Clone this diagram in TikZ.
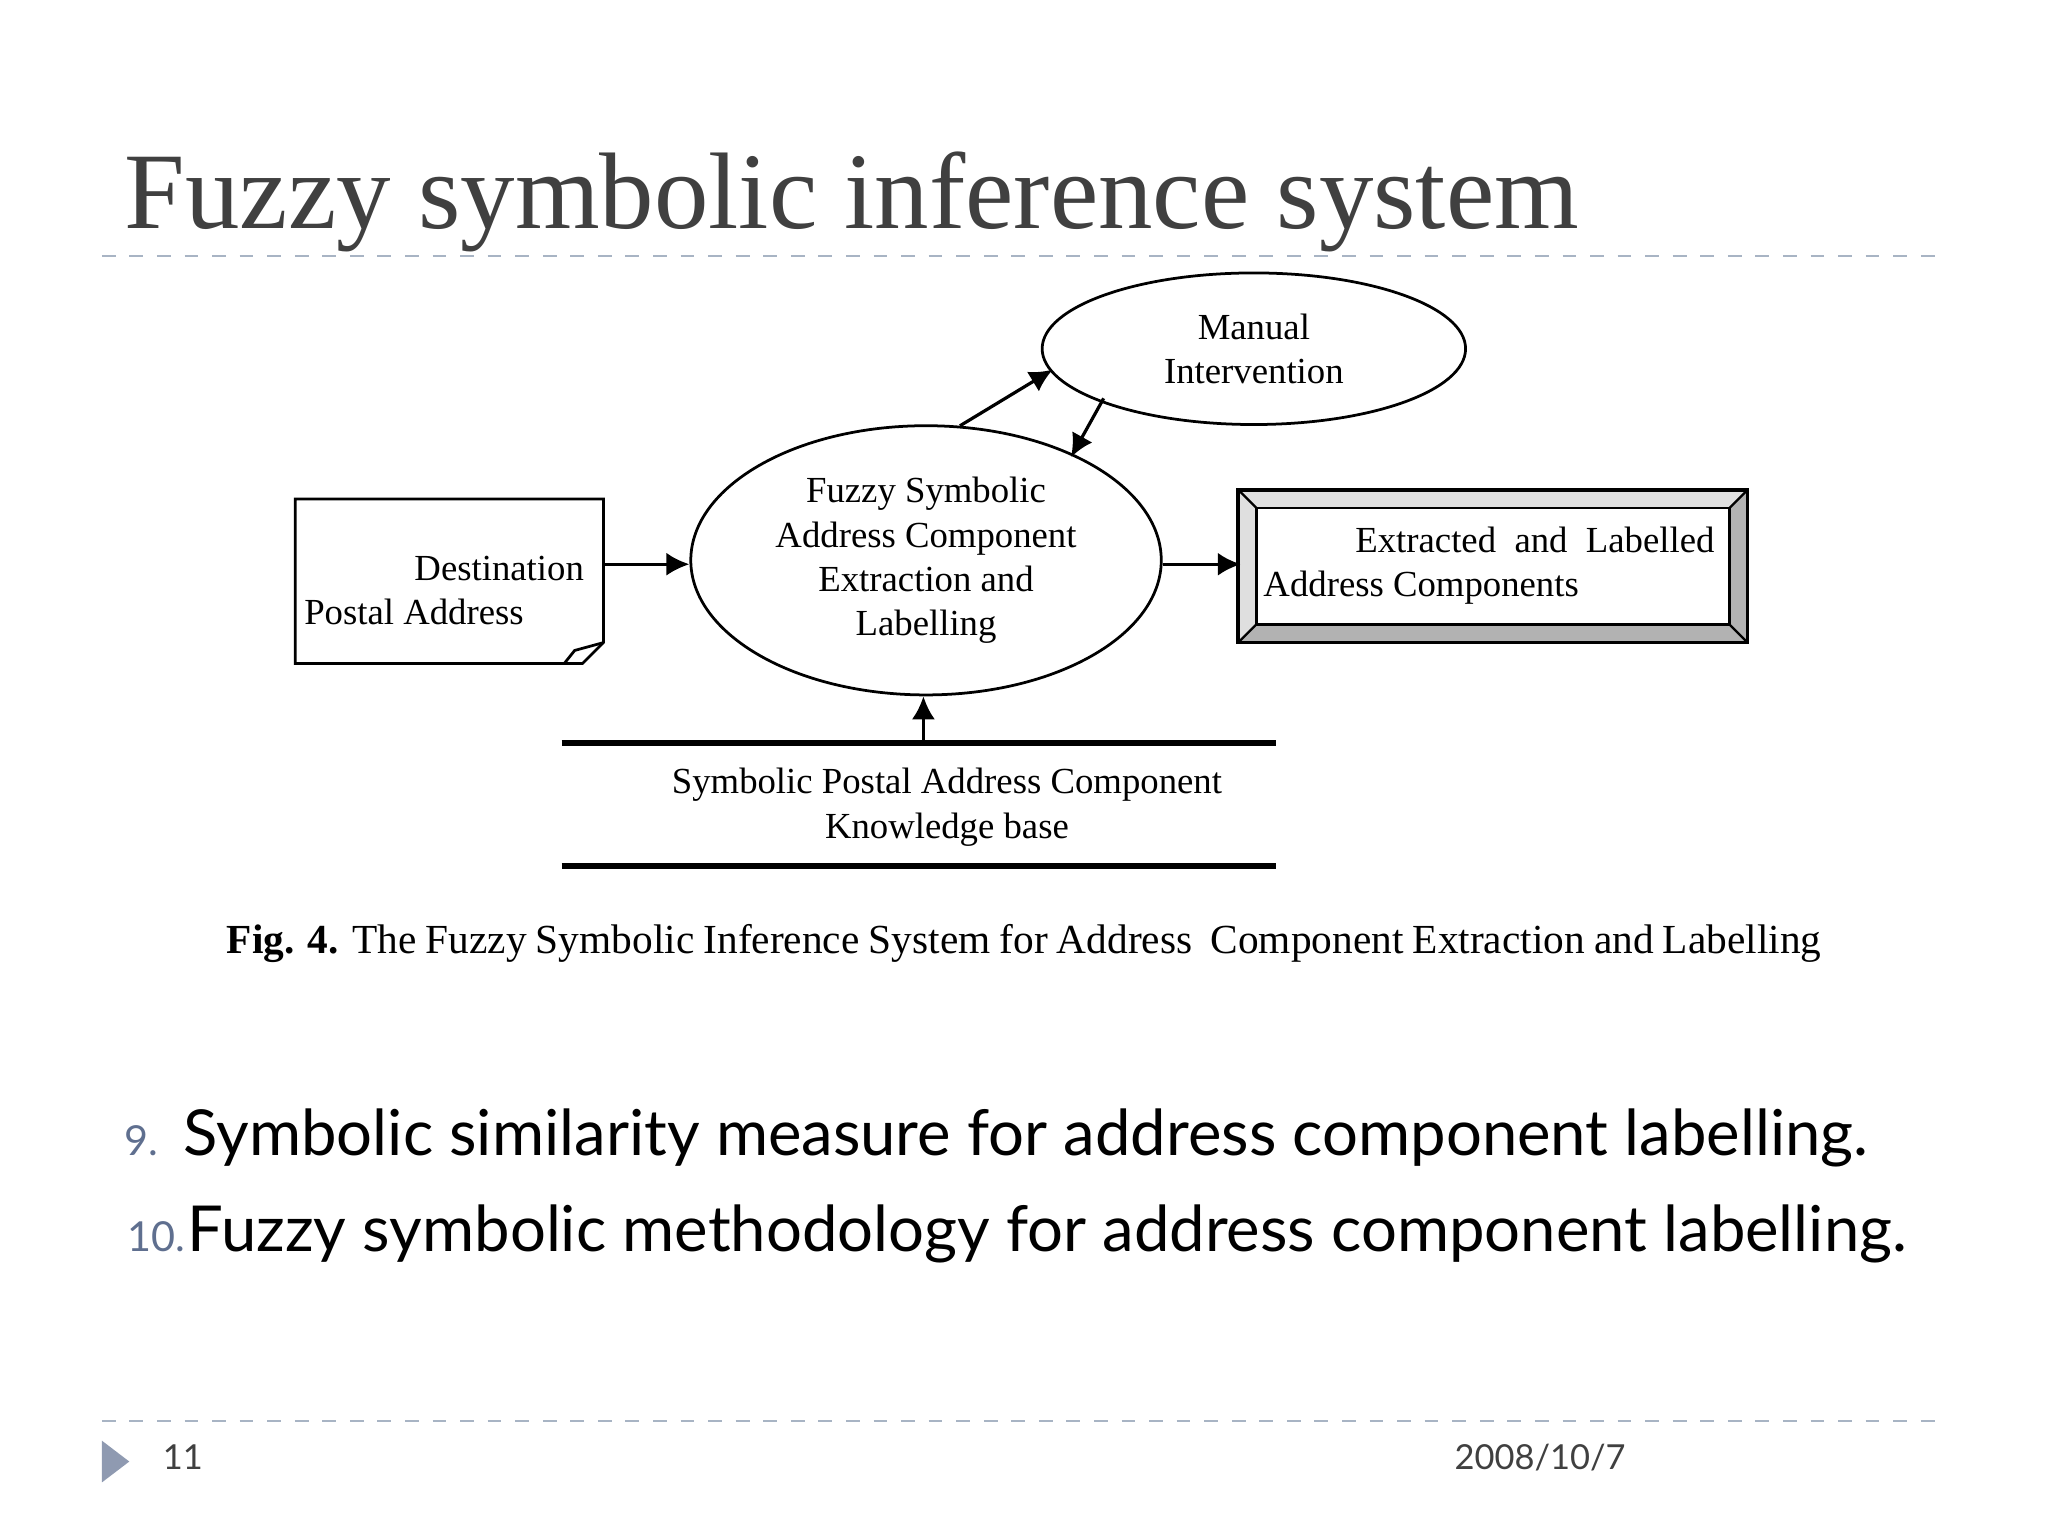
\documentclass[tikz,border=0pt]{standalone}
\usepackage{fontspec}
\setmainfont{Liberation Serif}
\newfontfamily\bodyfont{Lato}
\usetikzlibrary{shapes.geometric,arrows.meta}
\definecolor{titlegray}{HTML}{404040}
\definecolor{dashc}{HTML}{A8B4C4}
\definecolor{bluegray}{HTML}{5F6F8F}
\tikzset{
  diag/.style={font=\fontsize{8}{9.6}\selectfont, align=center},
  arr/.style={-{Latex[length=5pt,width=5pt]}, line width=0.7pt},
  ell/.style={draw, ellipse, line width=0.6pt, inner sep=0pt},
  sep/.style={draw=dashc, dashed, line width=0.6pt}
}
\begin{document}
\begin{tikzpicture}[x=0.01cm,y=-0.01cm]
\useasboundingbox (0,0) rectangle (1568,1176);
\node[anchor=base west, text=titlegray, font=\fontsize{23.7}{28}\selectfont, inner sep=0] (title) at (95,175) {Fuzzy symbolic inference system};
\coordinate (l1a) at (78,196); \coordinate (l1b) at (1490,196);
\draw[sep] (l1a) -- (l1b);
% ellipses
\node[ell, minimum width=3.24cm, minimum height=1.16cm, diag] (man) at (960,267) {Manual\\Intervention};
\node[ell, minimum width=3.6cm, minimum height=2.06cm, diag] (fz) at (709,429) {Fuzzy Symbolic\\Address Component\\Extraction and\\Labelling};
% document
\draw[line width=0.6pt] (226,382) -- (462,382) -- (462,492) -- (446,508) -- (226,508) -- cycle;
\draw[line width=0.6pt] (462,492) -- (440,498) -- (432,508);
\node[diag, align=left] (doc) at (340,452) {\hspace*{3em}Destination\\Postal Address};
\coordinate (docr) at (462,432);
% output box
\fill[gray!60] (948,375) rectangle (1338,492);
\fill[gray!25] (948,375) -- (1338,375) -- (1324,389) -- (962,389) -- (962,478) -- (948,492) -- cycle;
\fill[white] (962,389) rectangle (1324,478);
\draw[line width=0.8pt] (948,375) rectangle (1338,492);
\draw[line width=0.6pt] (962,389) rectangle (1324,478);
\draw[line width=0.5pt] (948,375) -- (962,389) (1338,375) -- (1324,389) (948,492) -- (962,478) (1338,492) -- (1324,478);
\node[diag, align=left] (out) at (1140,433) {\hspace*{2.5em}Extracted \ and \ Labelled\\Address Components};
\coordinate (outl) at (950,432);
% arrows
\coordinate (fzt1) at (735,326); \coordinate (mn1) at (806,283);
\coordinate (mn2) at (845,305); \coordinate (fzt2) at (820,350);
\draw[arr] (docr) -- (fz.west |- docr);
\draw[arr] (fz.east |- outl) -- (outl);
\draw[arr] (fzt1) -- (mn1);
\draw[arr] (mn2) -- (fzt2);
% knowledge base
\coordinate (k1) at (430,569); \coordinate (k2) at (977,569);
\coordinate (k3) at (430,663); \coordinate (k4) at (977,663);
\draw[line width=1.2pt] (k1) -- (k2) (k3) -- (k4);
\coordinate (kb) at (707,569);
\draw[arr] (kb) -- (fz.south -| kb);
\node[diag] (kbt) at (725,618) {Symbolic Postal Address Component\\Knowledge base};
% caption
\node[anchor=base west, inner sep=0, font=\fontsize{9}{12.5}\selectfont, text width=12.2cm, align=justify] (cap) at (173,730) {\textbf{Fig. 4.} The Fuzzy Symbolic Inference System for Address \ Component Extraction and Labelling};
% bullets
\node[anchor=base west, inner sep=0, text=bluegray, font=\bodyfont\fontsize{9}{11}\selectfont] (n9) at (95,885) {9.};
\node[anchor=base west, inner sep=0, font=\bodyfont\fontsize{13.8}{17}\selectfont] (b9) at (140,885) {Symbolic similarity measure for address component labelling.};
\node[anchor=base west, inner sep=0, text=bluegray, font=\bodyfont\fontsize{9}{11}\selectfont] (n10) at (97,958) {10.};
\node[anchor=base west, inner sep=0, font=\bodyfont\fontsize{13.8}{17}\selectfont] (b10) at (143,958) {Fuzzy symbolic methodology for address component labelling.};
% footer
\coordinate (l2a) at (78,1088); \coordinate (l2b) at (1490,1088);
\draw[sep] (l2a) -- (l2b);
\fill[bluegray!70] (78,1103) -- (99,1119) -- (78,1135) -- cycle;
\node[anchor=base west, inner sep=0, text=titlegray, font=\bodyfont\fontsize{7.5}{9}\selectfont] (pg) at (124,1125) {11};
\node[anchor=base west, inner sep=0, text=titlegray, font=\bodyfont\fontsize{7.5}{9}\selectfont] (dt) at (1113,1125) {2008/10/7};
\end{tikzpicture}
\end{document}
